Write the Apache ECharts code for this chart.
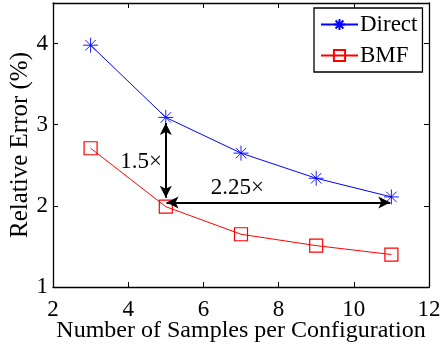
<!DOCTYPE html>
<html><head><meta charset="utf-8">
<script src="https://cdn.jsdelivr.net/npm/echarts@6/dist/echarts.min.js"></script>
<style>html,body{margin:0;padding:0;background:#fff}#c{width:442px;height:347px}</style>
</head><body><div id="c"></div>
<script>
const samples = [3, 5, 7, 9, 11];
const directErr = [3.98, 3.09, 2.65, 2.34, 2.11];
const bmfErr = [2.71, 1.99, 1.65, 1.51, 1.40];
const xTicks = [2, 4, 6, 8, 10, 12];
const yTicks = [1, 2, 3, 4];
const annotations = [
  { text: '1.5×', x: 4.9, y: 2.54, align: 'right' },
  { text: '2.25×', x: 6.9, y: 2.22, align: 'center' }
];
const vArrow = [[5, 2.1], [5, 3.02]];
const hArrow = [[5.02, 2.04], [10.97, 2.04]];

const font = 'Liberation Serif';
const fs = 23;
const asterisk = 'path://M0,-10L0,10M-10,0L10,0M-7,-7L7,7M-7,7L7,-7';
const chart = echarts.init(document.getElementById('c'));
const axisCommon = {
  axisLine: { show: true, onZero: false, lineStyle: { color: '#000', width: 1.3 } },
  axisTick: { show: true, inside: true, length: 5, lineStyle: { color: '#000' } },
  splitLine: { show: false },
  axisLabel: { color: '#000', fontFamily: font, fontSize: fs }
};
chart.setOption({
  animation: false,
  grid: { left: 53, right: 13, top: 3, bottom: 60, show: false, containLabel: false, outerBoundsMode: 'none' },
  xAxis: [
    Object.assign({}, axisCommon, { type: 'value', min: 2, max: 12, interval: 2,
      name: 'Number of Samples per Configuration', nameLocation: 'middle', nameGap: 32, nameMoveOverlap: false,
      nameTextStyle: { color: '#000', fontFamily: font, fontSize: 24 },
      axisLabel: Object.assign({}, axisCommon.axisLabel, { margin: 11, formatter: v => xTicks.includes(v) ? String(v) : '' }) }),
    Object.assign({}, axisCommon, { type: 'value', position: 'top', min: 2, max: 12, interval: 2,
      axisLabel: { show: false } })
  ],
  yAxis: [
    Object.assign({}, axisCommon, { type: 'value', min: 1, max: 4.5, interval: 1,
      name: 'Relative Error (%)', nameLocation: 'middle', nameGap: 20, nameMoveOverlap: false,
      nameTextStyle: { color: '#000', fontFamily: font, fontSize: 25 },
      axisLabel: Object.assign({}, axisCommon.axisLabel, { margin: 5, formatter: v => yTicks.includes(v) ? String(v) : '' }) }),
    Object.assign({}, axisCommon, { type: 'value', position: 'right', min: 1, max: 4.5, interval: 1,
      axisLabel: { show: false } })
  ],
  legend: {
    left: 314, top: 8, width: 111, orient: 'vertical',
    backgroundColor: '#fff', borderColor: '#000', borderWidth: 1.3, borderRadius: 0,
    padding: [5, 5, 5, 6], itemGap: 8, itemWidth: 37, itemHeight: 14,
    textStyle: { fontFamily: font, fontSize: fs, color: '#000', padding: [0, 0, 0, -3] },
    data: ['Direct', 'BMF']
  },
  series: [
    { name: 'Direct', type: 'line', data: samples.map((x, i) => [x, directErr[i]]),
      symbol: asterisk, symbolSize: 15, showAllSymbol: true,
      lineStyle: { color: '#0000ff', width: 1 },
      itemStyle: { color: 'none', borderColor: '#0000ff', borderWidth: 0.9 }, z: 3 },
    { name: 'BMF', type: 'line', data: samples.map((x, i) => [x, bmfErr[i]]),
      symbol: 'rect', symbolSize: 13,
      lineStyle: { color: '#ff0000', width: 1 },
      itemStyle: { color: 'none', borderColor: '#ff0000', borderWidth: 1.2 }, z: 3 },
    { type: 'line', data: [], silent: true,
      markLine: { silent: true, symbol: ['arrow', 'arrow'], symbolSize: [9, 12],
        lineStyle: { color: '#000', width: 2, type: 'solid' }, label: { show: false },
        data: [
          [{ coord: vArrow[0] }, { coord: vArrow[1] }],
          [{ coord: hArrow[0] }, { coord: hArrow[1] }]
        ] },
      markPoint: { silent: true, symbol: 'circle', symbolSize: 0,
        data: annotations.map(a => ({ coord: [a.x, a.y],
          label: { show: true, position: 'inside', formatter: a.text, align: a.align, verticalAlign: 'middle',
            color: '#000', fontFamily: font, fontSize: fs } })) } }
  ]
});
</script></body></html>
